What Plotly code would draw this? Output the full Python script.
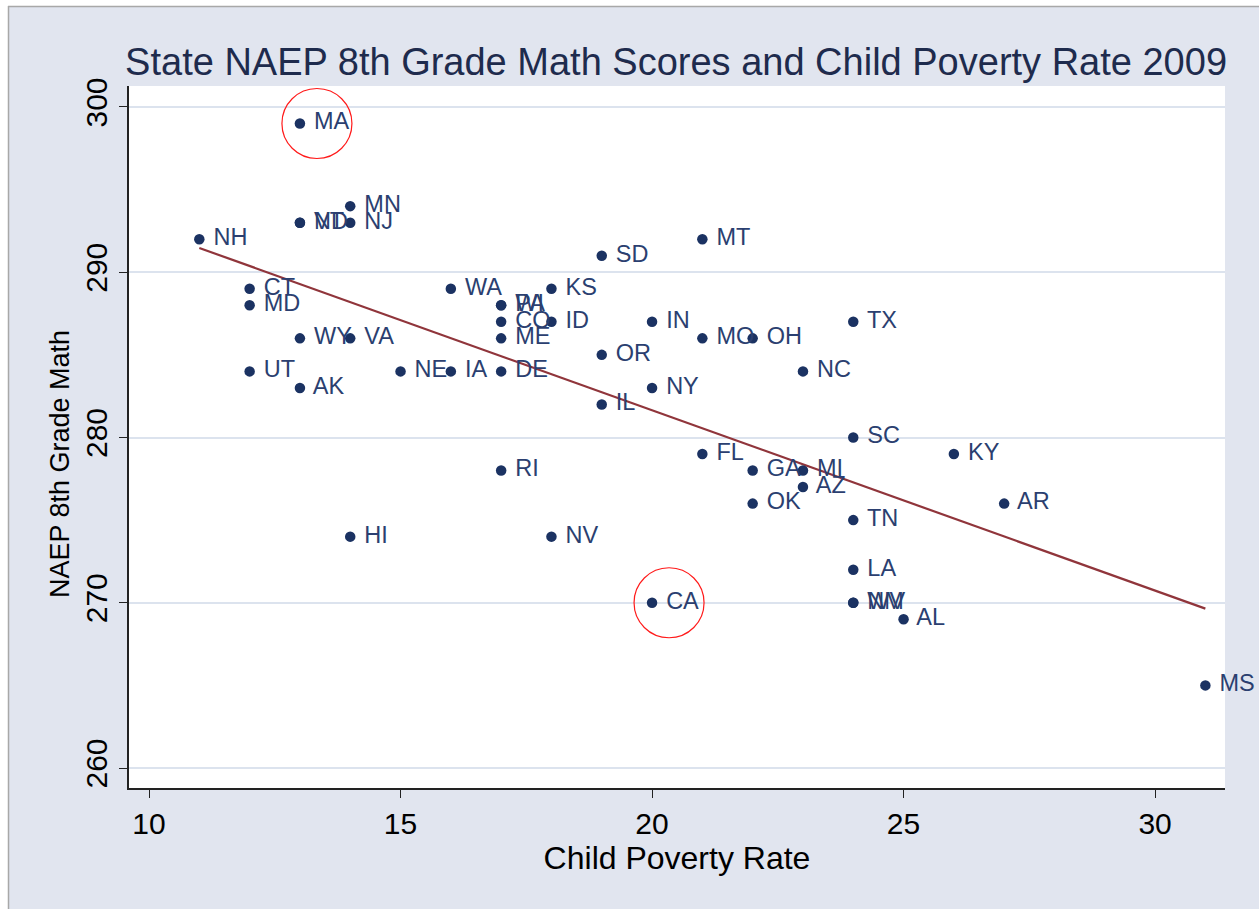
import numpy as np
import plotly.graph_objects as go

states = ["MA", "MN", "VT", "ND", "NJ", "NH", "MT", "SD", "CT", "WA",
          "KS", "MD", "PA", "WI", "CO", "ID", "IN", "TX", "WY", "VA",
          "ME", "MO", "OH", "OR", "UT", "NE", "IA", "DE", "NC", "AK",
          "NY", "IL", "SC", "FL", "KY", "RI", "GA", "MI", "AZ", "OK",
          "AR", "TN", "HI", "NV", "LA", "CA", "NM", "WV", "AL", "MS"]
poverty = [13, 14, 13, 13, 14, 11, 21, 19, 12, 16,
           18, 12, 17, 17, 17, 18, 20, 24, 13, 14,
           17, 21, 22, 19, 12, 15, 16, 17, 23, 13,
           20, 19, 24, 21, 26, 17, 22, 23, 23, 22,
           27, 24, 14, 18, 24, 20, 24, 24, 25, 31]
math8 = [299, 294, 293, 293, 293, 292, 292, 291, 289, 289,
         289, 288, 288, 288, 287, 287, 287, 287, 286, 286,
         286, 286, 286, 285, 284, 284, 284, 284, 284, 283,
         283, 282, 280, 279, 279, 278, 278, 278, 277, 276,
         276, 275, 274, 274, 272, 270, 270, 270, 269, 265]
circled = ["MA", "CA"]

x_ticks = [10, 15, 20, 25, 30]
y_ticks = [260, 270, 280, 290, 300]

FONT = "Liberation Sans, Arial, sans-serif"
NAVY = "#1b3262"
BG = "#e1e5ef"

slope, intercept = np.polyfit(poverty, math8, 1)
fx = np.array([min(poverty), max(poverty)])
fy = slope * fx + intercept

fig = go.Figure()
fig.add_trace(go.Scatter(
    x=fx, y=fy, mode="lines",
    line=dict(color="#90353b", width=2.2),
    showlegend=False, hoverinfo="skip"))
fig.add_trace(go.Scatter(
    x=poverty, y=math8, mode="markers+text", text=[" " + s for s in states],
    textposition="middle right", cliponaxis=False,
    textfont=dict(family=FONT, size=23.5, color="#2b3f70"),
    marker=dict(color=NAVY, size=10.5),
    showlegend=False, hoverinfo="skip"))

shapes = []
for s in circled:
    i = states.index(s)
    shapes.append(dict(
        type="circle", xref="x", yref="y",
        xsizemode="pixel", ysizemode="pixel",
        xanchor=poverty[i], yanchor=math8[i],
        x0=-18, x1=52, y0=-35, y1=35,
        line=dict(color="#ff1a1a", width=1.2)))

# outer white strip and border line (image frame)
PW, PH = 1096, 702
def px_x(p):
    return (p - 129) / PW
def px_y(p):
    return (788 - p) / PH
shapes.append(dict(type="rect", xref="paper", yref="paper",
                   x0=px_x(-5), x1=px_x(1265), y0=px_y(6), y1=px_y(-5),
                   fillcolor="white", line=dict(width=0), layer="above"))
shapes.append(dict(type="rect", xref="paper", yref="paper",
                   x0=px_x(-5), x1=px_x(8), y0=px_y(915), y1=px_y(-5),
                   fillcolor="white", line=dict(width=0), layer="above"))
shapes.append(dict(type="line", xref="paper", yref="paper",
                   x0=px_x(8), x1=px_x(1265), y0=px_y(6.5), y1=px_y(6.5),
                   line=dict(color="#a8a8a8", width=1.5), layer="above"))
shapes.append(dict(type="line", xref="paper", yref="paper",
                   x0=px_x(8.5), x1=px_x(8.5), y0=px_y(915), y1=px_y(6),
                   line=dict(color="#a8a8a8", width=1.5), layer="above"))

fig.update_layout(
    width=1259, height=909,
    margin=dict(l=129, r=34, t=86, b=121),
    paper_bgcolor=BG, plot_bgcolor="white",
    title=dict(text="State NAEP 8th Grade Math Scores and Child Poverty Rate 2009",
               font=dict(family=FONT, size=38, color="#1e2b4d"),
               x=0.537, xanchor="center", y=1 - 62 / 909, yanchor="middle"),
    shapes=shapes,
    annotations=[dict(text="NAEP 8th Grade Math", textangle=-90,
                      xref="paper", yref="paper",
                      x=px_x(60), y=px_y(464), xanchor="center", yanchor="middle",
                      showarrow=False,
                      font=dict(family=FONT, size=27, color="black"))],
    xaxis=dict(range=[9.602, 31.39], tickvals=x_ticks, showgrid=False,
               zeroline=False, showline=True, linecolor="#222", linewidth=1.5,
               ticks="outside", ticklen=8, tickwidth=1.3, tickcolor="#222",
               tickfont=dict(family=FONT, size=30, color="black"),
               title=dict(text="Child Poverty Rate",
                          font=dict(family=FONT, size=32, color="black"),
                          standoff=2)),
    yaxis=dict(range=[258.79, 301.27], tickvals=y_ticks, showgrid=True,
               gridcolor="#dce3ee", gridwidth=2.2,
               zeroline=False, showline=True, linecolor="#222", linewidth=1.5,
               ticks="outside", ticklen=8, tickwidth=1.3, tickcolor="#222",
               tickangle=-90,
               tickfont=dict(family=FONT, size=30, color="black")),
)

fig.write_html("out.html", config={"displayModeBar": False},
               post_script="document.body.style.margin='0';")
